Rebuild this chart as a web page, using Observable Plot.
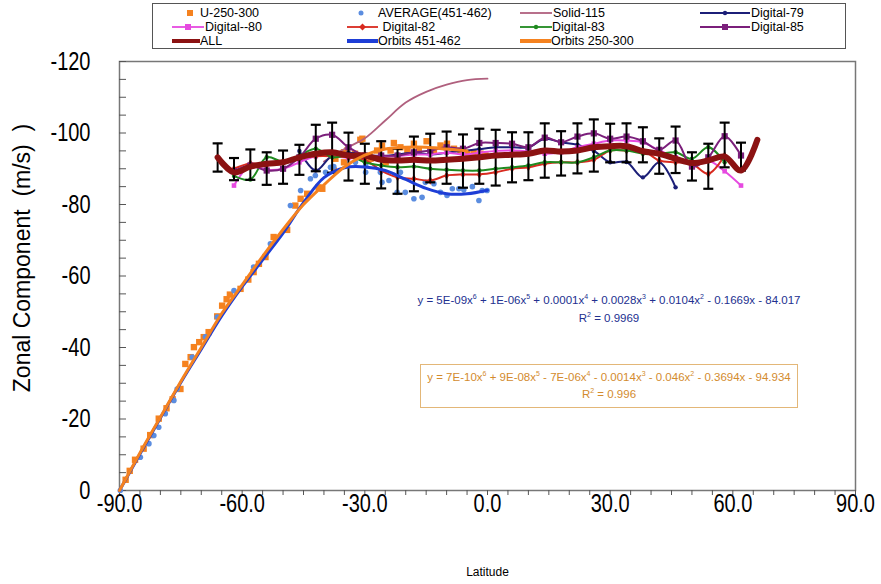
<!DOCTYPE html>
<html><head><meta charset="utf-8">
<script src="https://cdn.jsdelivr.net/npm/d3@7"></script>
<script src="https://cdn.jsdelivr.net/npm/@observablehq/plot@0.6"></script>
<style>
body{margin:0;background:#fff;}
#wrap{position:relative;width:881px;height:584px;font-family:"Liberation Sans",Arial,sans-serif;overflow:hidden}
#legend{position:absolute;left:152px;top:3px;width:694px;height:46px;border:1px solid #555;box-sizing:border-box;background:#fff;}
.li{position:absolute;font-size:12.5px;line-height:14px;white-space:pre;color:#000;}
.sw{position:absolute;}
.eq{position:absolute;font-size:11.5px;white-space:nowrap;text-align:center;line-height:18px}
.eq sup{font-size:7px;vertical-align:5px;line-height:0}
svg text{white-space:pre}
</style></head><body><div id="wrap"></div>
<script>
// ---------- DATA ----------
const uLat = [-88.5,-87.5,-86.2,-84.1,-82.5,-80.4,-78.5,-77,-75.1,-73.9,-72.6,-71.8,-70.5,-69.4,-68.2,-66.1,-64.9,-63.8,-63.0,-60.4,-58.5,-57.2,-55.9,-54.3,-52.3,-49.0,-47.0,-45.7,-44.1,-41.3,-40.4,-37.6,-37.2,-35.1,-35.1,-34.3,-32.4,-31.1,-30.6,-28.6,-27.0,-25.8,-24.9,-23.7,-22.9,-21.3,-19.6,-18.0,-16.8,-14.9,-13.1,-11.5,-9.9,-8.2,-6.6,-5.0,-3.4,-1.7,-0.5];
const uVal = [-3,-5.5,-8.6,-11.7,-15.5,-20.1,-23,-25.5,-28.4,-35.4,-37.3,-40.1,-41.5,-42.9,-44.3,-48.7,-51.7,-53.5,-54.8,-56.4,-59,-61.1,-63.4,-65.3,-70.9,-72.9,-79.7,-81.6,-83.0,-84.8,-84.4,-89.5,-92.8,-91.8,-94.6,-95.1,-94.2,-98.1,-98.4,-92.8,-95.1,-96.5,-91.8,-95.1,-97.2,-96.0,-95.3,-97.0,-95.1,-97.7,-95.3,-96.5,-97.0,-95.6,-95.1,-94.2,-94.6,-94.2,-93.7];

const avgLat = [-89.8,-84.9,-82.8,-81.6,-80.4,-78.8,-76.7,-75.9,-72.2,-69,-66.1,-62.0,-57.2,-53.1,-48.2,-45.7,-43.3,-42.1,-39.6,-38.4,-37.6,-32.3,-29.8,-29.8,-26.2,-25.8,-24.1,-22.1,-21.3,-20.1,-18.0,-16.0,-15.2,-13.1,-11.5,-9.9,-8.6,-7.0,-5.8,-3.7,-2.1,-1.3,-0.1];
const avgVal = [0,-9.3,-13.1,-15.4,-17.7,-21.5,-25.2,-28.4,-37.3,-43,-48.5,-55.9,-62.5,-69.0,-79.7,-83.9,-87.2,-88.1,-89.0,-90.4,-90.6,-91.8,-90.9,-89.0,-89.0,-86.2,-86.7,-83.4,-89.0,-83.4,-81.6,-82.0,-86.2,-85.8,-83.4,-82.5,-84.4,-84.4,-84.1,-85.0,-81.1,-83.9,-83.9];

const solidLat = [-40,-35,-30,-25,-20,-15,-10,-5,0];
const solidVal = [-92,-95.5,-98.5,-103.5,-108.5,-111.5,-113.5,-114.8,-115.2];

const d79Lat = [-46,-42,-38,-34,-30,-26,-22,-18,-14,-10,-6,-2,2,6,10,14,18,22,26,30,34,38,42,46];
const d79Val = [-95.0,-89.5,-93.7,-94.5,-94.0,-93.5,-94.0,-94.5,-94.0,-94.5,-95.0,-95.5,-96.0,-96.0,-96.0,-98.4,-97.4,-96.7,-95.0,-91.8,-91.9,-87.6,-91.8,-84.8];

const d80Lat = [-62,-58,-54,-50,-46,-42,-38,-34,-30,-26,-22,-18,-14,-10,-6,-2,2,6,10,14,18,22,26,30,34,38,42,46,50,54,58,62];
const d80Val = [-85.3,-90.9,-89.7,-90.0,-91.8,-93.5,-93.5,-93.0,-93.0,-93.5,-93.5,-94.0,-94.0,-94.5,-94.0,-94.5,-95.0,-95.1,-94.8,-94.2,-94.6,-96.0,-97.0,-97.9,-97.9,-97.4,-95.1,-93.2,-91.4,-92.3,-89.3,-85.3];

const d82Lat = [-62,-58,-54,-50,-46,-42,-38,-34,-30,-26,-22,-18,-14,-10,-6,-2,2,6,10,14,18,22,26,30,34,38,42,46,50,54,58];
const d82Val = [-90.0,-91.5,-91.0,-92.0,-93.0,-93.5,-93.5,-93.2,-92.5,-89.5,-87.6,-87.2,-86.7,-88.1,-88.4,-88.4,-89.0,-90.0,-90.4,-91.4,-91.8,-91.8,-92.5,-95.1,-95.1,-95.1,-92.3,-91.8,-91.4,-88.6,-93.7];

const d83Lat = [-62,-58,-54,-50,-46,-42,-38,-34,-30,-26,-22,-18,-14,-10,-6,-2,2,6,10,14,18,22,26,30,34,38,42,46,50,54,58];
const d83Val = [-88.0,-87.0,-93.2,-92.0,-93.7,-95.6,-93.2,-93.7,-91.8,-90.9,-90.4,-90.6,-90.0,-89.7,-89.5,-89.5,-90.0,-90.4,-90.9,-91.8,-91.8,-91.8,-93.2,-95.1,-95.1,-94.2,-94.2,-94.6,-92.8,-96.0,-91.8];

const d85Lat = [-62,-58,-54,-50,-46,-42,-38,-34,-30,-26,-22,-18,-14,-10,-6,-2,2,6,10,14,18,22,26,30,34,38,42,46,50,54,58,62];
const d85Val = [-89.3,-90.9,-89.5,-90.0,-93.2,-98.4,-99.5,-96.0,-93.7,-93.7,-93.7,-94.6,-95.1,-96.0,-95.6,-97.2,-97.2,-97.0,-96.0,-98.7,-97.4,-99.0,-99.9,-98.4,-99.0,-97.7,-95.3,-97.9,-90.6,-93.2,-99.1,-93.7];

const allLat = [-66,-62,-58,-54,-50,-46,-42,-38,-34,-30,-26,-22,-18,-14,-10,-6,-2,2,6,10,14,18,22,26,30,34,38,42,46,50,54,58,62,66];
const allVal = [-93.2,-89.0,-90.6,-91.4,-91.8,-93.2,-94.2,-94.6,-93.7,-93.7,-92.5,-92.3,-92.5,-92.3,-92.5,-92.8,-93.2,-93.7,-93.9,-94.2,-95.1,-94.8,-95.1,-96.0,-96.3,-96.3,-94.9,-94.2,-92.8,-91.6,-92.3,-93.4,-89.5,-98.1];

const errLat = [-66,-62,-58,-54,-50,-46,-42,-38,-34,-30,-26,-22,-18,-14,-10,-6,-2,2,6,10,14,18,22,26,30,34,38,42,46,50,54,58,62];
const errTop = [-97.1,-93.0,-95.4,-94.6,-95.1,-96.7,-102.3,-102.9,-100.1,-97.0,-97.7,-95.6,-99.0,-99.8,-100.4,-99.6,-101.2,-100.9,-100.2,-100.2,-102.7,-100.5,-102.7,-103.8,-102.6,-102.7,-101.6,-98.5,-101.8,-94.6,-97.0,-102.9,-97.3];
const errBot = [-89.2,-86.8,-86.9,-85.5,-85.8,-88.3,-89.3,-88.9,-86.7,-85.8,-84.5,-83.0,-83.7,-86.2,-85.8,-84.7,-85.8,-85.3,-86.2,-86.8,-87.5,-88.1,-88.7,-89.2,-91.8,-91.8,-91.8,-88.6,-88.8,-86.7,-84.4,-90.4,-89.5];

const orb451Lat = [-90,-85,-80,-75,-70,-65,-60,-55,-50,-45,-40,-35,-30,-25,-20,-15,-10,-5,0];
const orb451Val = [0,-10.2,-20.3,-30.2,-39.5,-48.8,-57,-64.5,-72,-80.5,-87.5,-90.3,-90.5,-89.5,-87,-84.5,-83,-83,-84];
const orb250Lat = [-90,-85,-80,-75,-70,-65,-60,-55,-50,-45,-40,-35,-30,-25,-20,-15,-10,-5];
const orb250Val = [0,-10.5,-20.5,-30.5,-40,-49.5,-57.5,-65.5,-73,-80,-85.5,-90.5,-93.8,-95.5,-96,-96,-95.5,-95];

const xTickLabels = [-90,-60,-30,0,30,60,90];
const yTickLabels = [0,-20,-40,-60,-80,-100,-120];

// ---------- helpers ----------
const pts = (xs, ys) => xs.map((x, i) => ({x, y: ys[i]}));
const C = {
  u: "#f5821f", avg: "#5b8de0", solid: "#b0607e", d79: "#1c1f78", d80: "#e64ae0",
  d82: "#d82a1f", d83: "#1f8a1f", d85: "#7b1f7b", all: "#8b1212", o451: "#1e3ed6", o250: "#f5821f"
};
const capSymbol = {draw(ctx) { ctx.moveTo(-5, 0); ctx.lineTo(5, 0); }};
const font = "'Liberation Sans',Arial,sans-serif";

const lineSeries = (lat, val, color, sym, r) => [
  Plot.line(pts(lat, val), {x: "x", y: "y", stroke: color, strokeWidth: 2, curve: "catmull-rom"}),
  Plot.dot(pts(lat, val), {x: "x", y: "y", fill: color, symbol: sym, r})
];

const chart = Plot.plot({
  width: 881, height: 584,
  marginLeft: 119, marginRight: 26, marginTop: 61, marginBottom: 94,
  x: {domain: [-90, 90]},
  y: {domain: [0, -120]},
  style: {background: "transparent", fontFamily: font},
  marks: [
    Plot.frame({stroke: "#777", strokeWidth: 1.5}),
    // minor ticks
    Plot.axisX(d3.range(-90, 91, 5), {tickSize: 5, text: null, label: null, stroke: "#555"}),
    Plot.axisY(d3.range(0, -121, -5), {tickSize: -7, text: null, label: null, stroke: "#555"}),
    // labels
    Plot.axisX(xTickLabels, {tickSize: 0, tickPadding: 4, fontSize: 25, tickFormat: d => d.toFixed(1), label: null}),
    Plot.axisY(yTickLabels, {tickSize: 0, tickPadding: 29, fontSize: 25, tickFormat: d => String(d), label: null}),
    Plot.text(["Zonal Component  (m/s)  )"], {frameAnchor: "left", textAnchor: "middle", dx: -97, dy: -18, rotate: -90, fontSize: 23}),
    Plot.text(["Latitude"], {frameAnchor: "bottom", dy: 85, fontSize: 12}),
    // scatter
    Plot.dot(pts(uLat, uVal), {x: "x", y: "y", symbol: "square", fill: C.u, r: 3.6}),
    Plot.dot(pts(avgLat, avgVal), {x: "x", y: "y", fill: C.avg, r: 2.8}),
    Plot.line(pts(solidLat, solidVal), {x: "x", y: "y", stroke: C.solid, strokeWidth: 1.8, curve: "catmull-rom"}),
    ...lineSeries(d79Lat, d79Val, C.d79, "circle", 2.2),
    ...lineSeries(d80Lat, d80Val, C.d80, "square", 2.6),
    ...lineSeries(d82Lat, d82Val, C.d82, "diamond", 2.6),
    ...lineSeries(d83Lat, d83Val, C.d83, "circle", 2.2),
    ...lineSeries(d85Lat, d85Val, C.d85, "square", 3.5),
    // error bars of ALL
    Plot.ruleX(errLat.map((x, i) => ({x, y1: errTop[i], y2: errBot[i]})), {x: "x", y1: "y1", y2: "y2", stroke: "#000", strokeWidth: 2}),
    Plot.dot(pts(errLat, errTop), {x: "x", y: "y", symbol: capSymbol, stroke: "#000", strokeWidth: 2.2}),
    Plot.dot(pts(errLat, errBot), {x: "x", y: "y", symbol: capSymbol, stroke: "#000", strokeWidth: 2.2}),
    Plot.line(pts(allLat, allVal), {x: "x", y: "y", stroke: C.all, strokeWidth: 6, curve: "catmull-rom"}),
    Plot.line(pts(orb451Lat, orb451Val), {x: "x", y: "y", stroke: C.o451, strokeWidth: 3, curve: "catmull-rom"}),
    Plot.line(pts(orb250Lat, orb250Val), {x: "x", y: "y", stroke: C.o250, strokeWidth: 3, curve: "catmull-rom"})
  ]
});
// narrow the big tick labels (reference uses a condensed face)
chart.querySelectorAll('g[aria-label="x-axis tick label"] text, g[aria-label="y-axis tick label"] text').forEach(t => {
  const tr = t.getAttribute("transform") || "";
  t.setAttribute("transform", tr + " scale(0.8,1)");
});
const wrap = document.getElementById("wrap");
wrap.appendChild(chart);
chart.style.position = "absolute"; chart.style.left = "0"; chart.style.top = "0";

// ---------- legend ----------
const legendItems = [
  {label: "U-250-300", type: "square", color: C.u, sx: 184, sw: 12, tx: 200, row: 0},
  {label: "AVERAGE(451-462)", type: "dot", color: C.avg, sx: 355, sw: 12, tx: 378, row: 0},
  {label: "Solid-115", type: "line", color: C.solid, sx: 520, sw: 32, tx: 553, row: 0},
  {label: "Digital-79", type: "linedot", color: C.d79, sx: 700, sw: 50, tx: 751, row: 0},
  {label: "Digital--80", type: "linesq", color: C.d80, sx: 172, sw: 32, tx: 205, row: 1},
  {label: " Digital-82", type: "linedia", color: C.d82, sx: 347, sw: 31, tx: 379, row: 1},
  {label: "Digital-83", type: "linedot", color: C.d83, sx: 520, sw: 32, tx: 552, row: 1},
  {label: "Digital-85", type: "linesq", color: C.d85, sx: 700, sw: 50, tx: 751, row: 1},
  {label: "ALL", type: "thick", color: C.all, sx: 172, sw: 28, tx: 200, row: 2},
  {label: "Orbits 451-462", type: "thick", color: C.o451, sx: 347, sw: 31, tx: 378, row: 2},
  {label: "Orbits 250-300", type: "thick", color: C.o250, sx: 520, sw: 31, tx: 551, row: 2}
];
const rowY = [13, 27, 41];
const legend = document.createElement("div");
legend.id = "legend";
wrap.appendChild(legend);
for (const it of legendItems) {
  const cy = rowY[it.row];
  const ns = "http://www.w3.org/2000/svg";
  const s = document.createElementNS(ns, "svg");
  s.setAttribute("width", it.sw); s.setAttribute("height", 10);
  s.setAttribute("class", "sw");
  s.style.left = (it.sx - 153) + "px"; s.style.top = (cy - 5 - 4) + "px";
  let inner = "";
  const m = it.sw / 2;
  if (it.type === "square") inner = `<rect x="${m-3}" y="2" width="6" height="6" fill="${it.color}"/>`;
  else if (it.type === "dot") inner = `<circle cx="${m}" cy="5" r="2.5" fill="${it.color}"/>`;
  else if (it.type === "line") inner = `<line x1="0" x2="${it.sw}" y1="5" y2="5" stroke="${it.color}" stroke-width="1.8"/>`;
  else if (it.type === "thick") inner = `<line x1="0" x2="${it.sw}" y1="5" y2="5" stroke="${it.color}" stroke-width="4"/>`;
  else {
    inner = `<line x1="0" x2="${it.sw}" y1="5" y2="5" stroke="${it.color}" stroke-width="1.8"/>`;
    if (it.type === "linedot") inner += `<circle cx="${m}" cy="5" r="2.2" fill="${it.color}"/>`;
    if (it.type === "linesq") inner += `<rect x="${m-3}" y="2" width="6" height="6" fill="${it.color}"/>`;
    if (it.type === "linedia") inner += `<path d="M${m},1.5L${m+3.5},5L${m},8.5L${m-3.5},5Z" fill="${it.color}"/>`;
  }
  s.innerHTML = inner;
  legend.appendChild(s);
  const t = document.createElement("div");
  t.className = "li"; t.textContent = it.label;
  t.style.left = (it.tx - 153) + "px"; t.style.top = (cy - 7 - 4) + "px";
  legend.appendChild(t);
}

// ---------- trendline equations ----------
const eq1 = document.createElement("div");
eq1.className = "eq"; eq1.style.color = "#22308f";
eq1.style.left = "409px"; eq1.style.top = "291px"; eq1.style.width = "400px";
eq1.innerHTML = "y = 5E-09x<sup>6</sup> + 1E-06x<sup>5</sup> + 0.0001x<sup>4</sup> + 0.0028x<sup>3</sup> + 0.0104x<sup>2</sup> - 0.1669x - 84.017<br>R<sup>2</sup> = 0.9969";
wrap.appendChild(eq1);
const eq2 = document.createElement("div");
eq2.className = "eq"; eq2.style.color = "#d38b2e";
eq2.style.left = "420px"; eq2.style.top = "364px"; eq2.style.width = "378px"; eq2.style.height = "44px";
eq2.style.border = "1px solid #e3b778"; eq2.style.boxSizing = "border-box"; eq2.style.paddingTop = "4px";
eq2.style.lineHeight = "17px";
eq2.innerHTML = "y = 7E-10x<sup>6</sup> + 9E-08x<sup>5</sup> - 7E-06x<sup>4</sup> - 0.0014x<sup>3</sup> - 0.046x<sup>2</sup> - 0.3694x - 94.934<br>R<sup>2</sup> = 0.996";
wrap.appendChild(eq2);
</script></body></html>
